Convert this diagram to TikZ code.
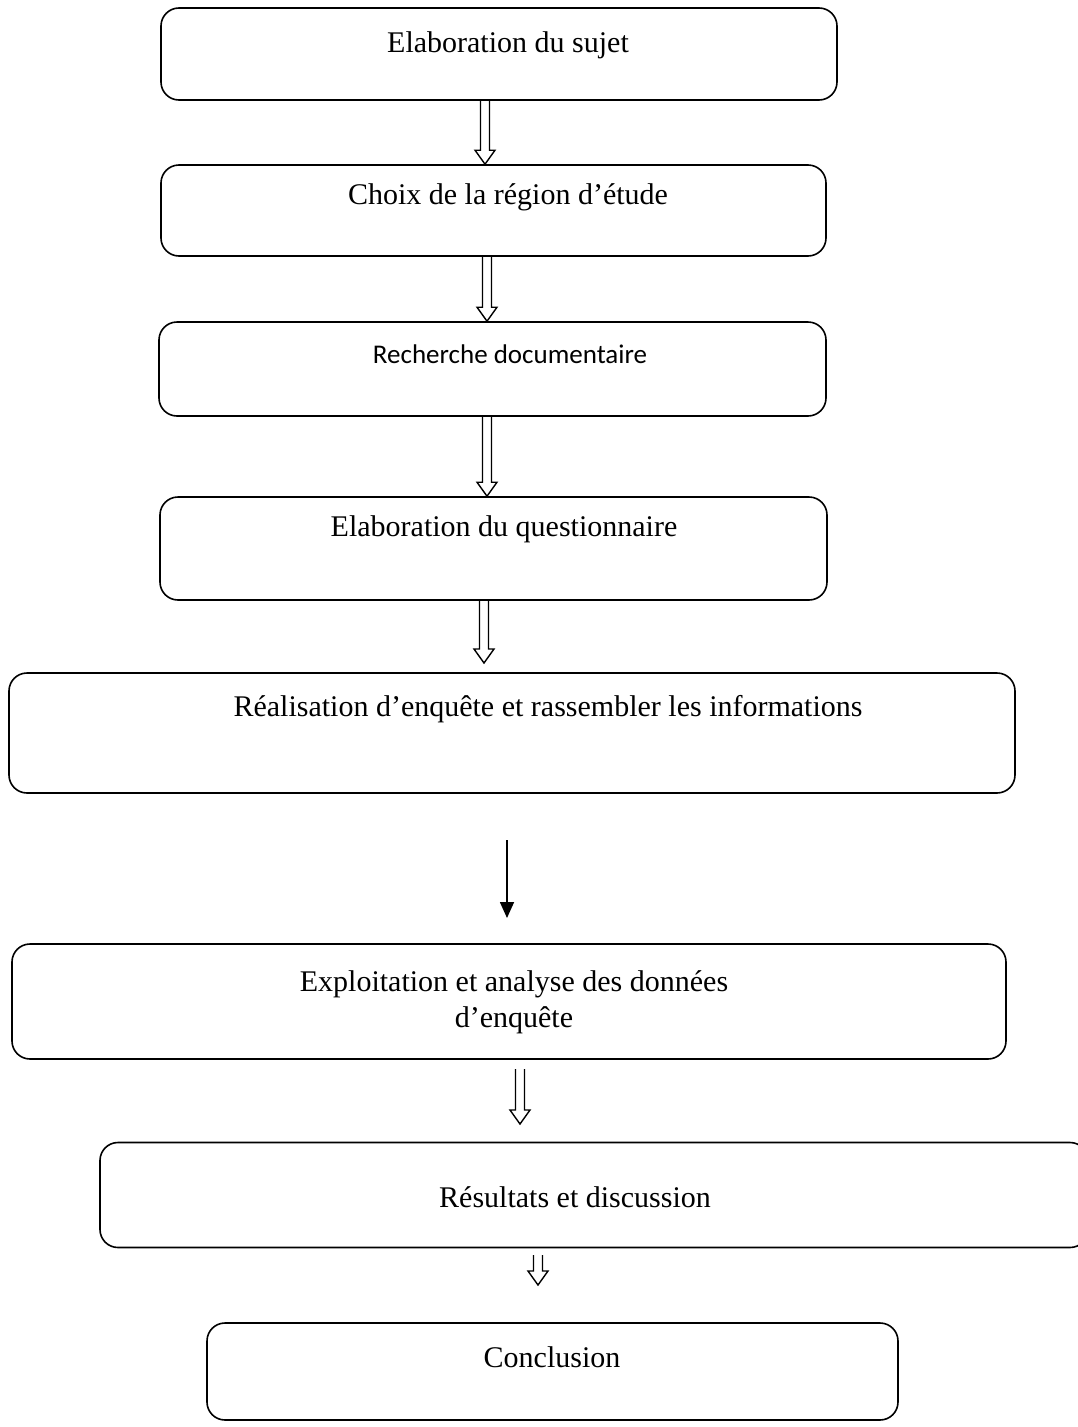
\documentclass[tikz,border=0pt]{standalone}
\usepackage{fontspec}
\setmainfont{Liberation Serif}
\newfontfamily\calib{Carlito}
\usetikzlibrary{calc,arrows.meta}
\tikzset{
  box/.style={draw, line width=1.6pt, rounded corners=18pt, inner sep=0pt, anchor=center},
  lbl/.style={font=\fontsize{30}{36}\selectfont, inner sep=0pt, anchor=center, align=center},
}
\newcommand{\hollowarr}[2]{%
  \draw[line width=1.4pt, line join=miter] let \p1=(#1), \p2=(#2) in
    (\x1-4.5pt,\y1) -- (\x1-4.5pt,\y2+14pt) -- (\x1-10pt,\y2+14pt) -- (\x1,\y2)
    -- (\x1+10pt,\y2+14pt) -- (\x1+4.5pt,\y2+14pt) -- (\x1+4.5pt,\y1);}
\begin{document}
\begin{tikzpicture}[x=1pt,y=-1pt]
\useasboundingbox (0,0) rectangle (1077,1427);
\node[box, minimum width=676pt, minimum height=92pt] (b1) at (499,54) {};
\node[box, minimum width=665pt, minimum height=91pt] (b2) at (493.5,210.5) {};
\node[box, minimum width=667pt, minimum height=94pt] (b3) at (492.5,369) {};
\node[box, minimum width=667pt, minimum height=103pt] (b4) at (493.5,548.5) {};
\node[box, minimum width=1006pt, minimum height=120pt] (b5) at (512,733) {};
\node[box, minimum width=994pt, minimum height=115pt] (b6) at (509,1001.5) {};
\node[box, minimum width=988pt, minimum height=105pt] (b7) at (594,1195) {};
\node[box, minimum width=691pt, minimum height=97pt] (b8) at (552.5,1371.5) {};

\node[lbl] (t1) at (508,45) {Elaboration du sujet};
\node[lbl] (t2) at (508,197) {Choix de la région d’étude};
\node[lbl, font=\calib\fontsize{27}{32}\selectfont] (t3) at (510,354) {Recherche documentaire};
\node[lbl] (t4) at (504,529) {Elaboration du questionnaire};
\node[lbl] (t5) at (548,709) {Réalisation d’enquête et rassembler les informations};
\node[lbl] (t6) at (514,1002) {Exploitation et analyse des données\\d’enquête};
\node[lbl] (t7) at (575,1197) {Résultats et discussion};
\node[lbl] (t8) at (552,1357) {Conclusion};

\coordinate (x1) at (485,0);
\coordinate (x2) at (487,0);
\coordinate (x3) at (487,0);
\coordinate (x4) at (484,0);
\hollowarr{x1 |- b1.south}{x1 |- b2.north}
\hollowarr{x2 |- b2.south}{x2 |- b3.north}
\hollowarr{x3 |- b3.south}{x3 |- b4.north}
\coordinate (a4e) at (484,663);
\hollowarr{x4 |- b4.south}{a4e}
\coordinate (a6s) at (520,1069);
\coordinate (a6e) at (520,1124);
\hollowarr{a6s}{a6e}
\coordinate (a7s) at (538,1255);
\coordinate (a7e) at (538,1285);
\hollowarr{a7s}{a7e}
\coordinate (a5s) at (507,840);
\coordinate (a5e) at (507,918);
\draw[line width=1.6pt, -{Triangle[length=16pt,width=14pt]}] (a5s) -- (a5e);
\end{tikzpicture}
\end{document}
